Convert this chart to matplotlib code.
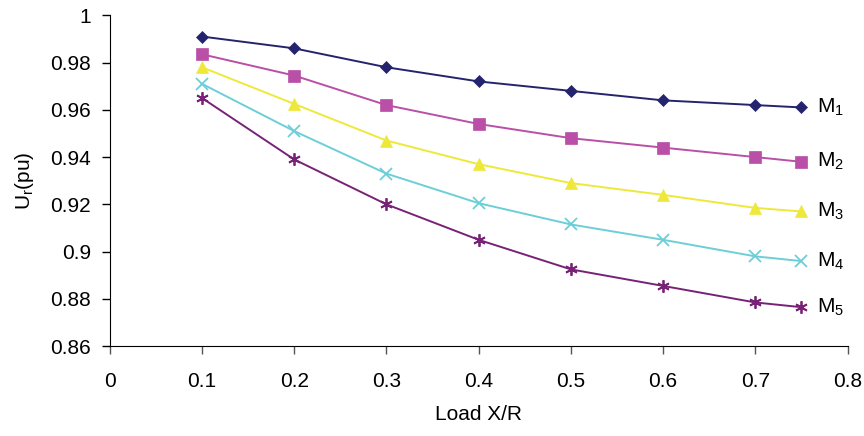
import numpy as np
import matplotlib.pyplot as plt

plt.rcParams['font.family'] = ['Liberation Sans', 'DejaVu Sans']

load_xr = [0.1, 0.2, 0.3, 0.4, 0.5, 0.6, 0.7, 0.75]
m1 = [0.991, 0.986, 0.978, 0.972, 0.968, 0.964, 0.962, 0.961]
m2 = [0.9835, 0.9745, 0.962, 0.954, 0.948, 0.944, 0.940, 0.938]
m3 = [0.978, 0.9625, 0.947, 0.937, 0.929, 0.924, 0.9185, 0.917]
m4 = [0.971, 0.951, 0.933, 0.9205, 0.9115, 0.905, 0.898, 0.896]
m5 = [0.965, 0.939, 0.920, 0.905, 0.8925, 0.8855, 0.8785, 0.8765]
names = ['M_1', 'M_2', 'M_3', 'M_4', 'M_5']

series = [m1, m2, m3, m4, m5]
colors = ['#24246e', '#b94fa7', '#eee83a', '#6ccfd8', '#782277']
markers = ['D', 's', '^', 'x', (6, 2, 0)]
msizes = [6.5, 8, 8, 8.5, 9]

fig = plt.figure(figsize=(8.64, 4.36), dpi=100)
ax = fig.add_axes([0.127, 0.206, 0.854, 0.759])

for ys, c, mk, ms, nm in zip(series, colors, markers, msizes, names):
    thin = mk == 'x' or isinstance(mk, tuple)
    ax.plot(load_xr, ys, color=c, marker=mk, markersize=ms, lw=1.4,
            markeredgewidth=1.3 if thin else 0.5)
    ax.text(load_xr[-1] + 0.017, ys[-1], r'$\mathregular{%s}$' % nm,
            fontsize=15, va='center', ha='left')

ax.set_xlim(0, 0.8)
ax.set_ylim(0.86, 1.0)
ax.set_xticks(np.arange(0, 0.81, 0.1))
ax.set_xticklabels(['0', '0.1', '0.2', '0.3', '0.4', '0.5', '0.6', '0.7', '0.8'])
ax.set_yticks(np.arange(0.86, 1.001, 0.02))
ax.set_yticklabels(['0.86', '0.88', '0.9', '0.92', '0.94', '0.96', '0.98', '1'])
ax.tick_params(direction='out', length=5.5, labelsize=15, width=1)
ax.tick_params(axis='x', pad=13, colors='#555555', labelcolor='black')
ax.tick_params(axis='y', pad=8)
ax.spines['top'].set_visible(False)
ax.spines['right'].set_visible(False)

ax.set_xlabel('Load X/R', fontsize=15, labelpad=10)
ax.set_ylabel(r'$\mathregular{U_r}$(pu)', fontsize=15, labelpad=10)

fig.savefig('out.png', dpi=100)
